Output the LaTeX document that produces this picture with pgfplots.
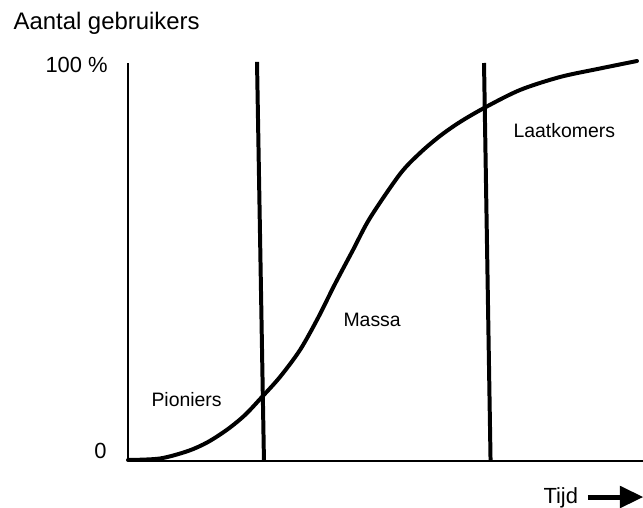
\documentclass[border=0pt]{standalone}
\usepackage{pgfplots}
\pgfplotsset{compat=1.18}
\usepackage{fontspec}
\setmainfont{Liberation Sans}
\newcommand{\fbig}{\fontsize{22}{26}\selectfont}
\newcommand{\ftitle}{\fontsize{24}{28}\selectfont}
\newcommand{\fmid}{\fontsize{19.5}{23}\selectfont}
\begin{document}
\begin{tikzpicture}
\begin{axis}[
  at={(128bp,47bp)}, anchor=origin,
  scale only axis, width=515bp, height=398bp,
  xmin=0, xmax=100, ymin=0, ymax=100,
  axis x line=bottom, axis y line=left,
  axis line style={-, line width=1.6pt, black},
  ticks=none, clip=false,
]
% S-curve (adoption)
\addplot[black, line width=4pt, smooth, line cap=round] coordinates {
 (0,0.25) (6.21,0.63) (11.65,2.51) (15.53,4.77) (19.42,8.04) (22.72,11.56)
 (25.83,15.83) (29.51,21.11) (33.40,27.89) (36.89,35.93) (40.19,44.47)
 (43.69,53.02) (46.99,61.06) (52.82,72.11) (56.70,77.39)
 (60.58,81.66) (64.47,85.18) (69.32,88.82) (76.12,93.22)
 (83.88,96.48) (91.65,98.62) (98.83,100.5)
};
% phase boundaries
\addplot[black, line width=4pt] coordinates {(25.05,100.3) (26.4,0)};
\addplot[black, line width=4pt] coordinates {(69.13,100.0) (70.4,0)};
% labels
\node[anchor=base east, font=\fbig] at (axis cs:-3.5,0.75) {0};
\node[anchor=base west, font=\fbig] at (axis cs:-16.7,97.7) {100 \%};
\node[anchor=base west, font=\ftitle] at (axis cs:-22.9,108.5) {Aantal gebruikers};
\node[anchor=base west, font=\fmid] at (axis cs:3.88,13.57) {Pioniers};
\node[anchor=base west, font=\fmid] at (axis cs:41.17,33.67) {Massa};
\node[anchor=base west, font=\fmid] at (axis cs:74.17,81.4) {Laatkomers};
\node[anchor=base west, font=\fbig] at (axis cs:80.0,-10.8) {Tijd};
\draw[line width=5pt] (axis cs:89.3,-9.05) -- (axis cs:96.5,-9.05);
\fill (axis cs:95.5,-6.2) -- (axis cs:100,-9.05) -- (axis cs:95.5,-11.9) -- cycle;
\end{axis}
\pgfresetboundingbox
\path[use as bounding box] (0,0) rectangle (643bp,508bp);
\end{tikzpicture}
\end{document}
